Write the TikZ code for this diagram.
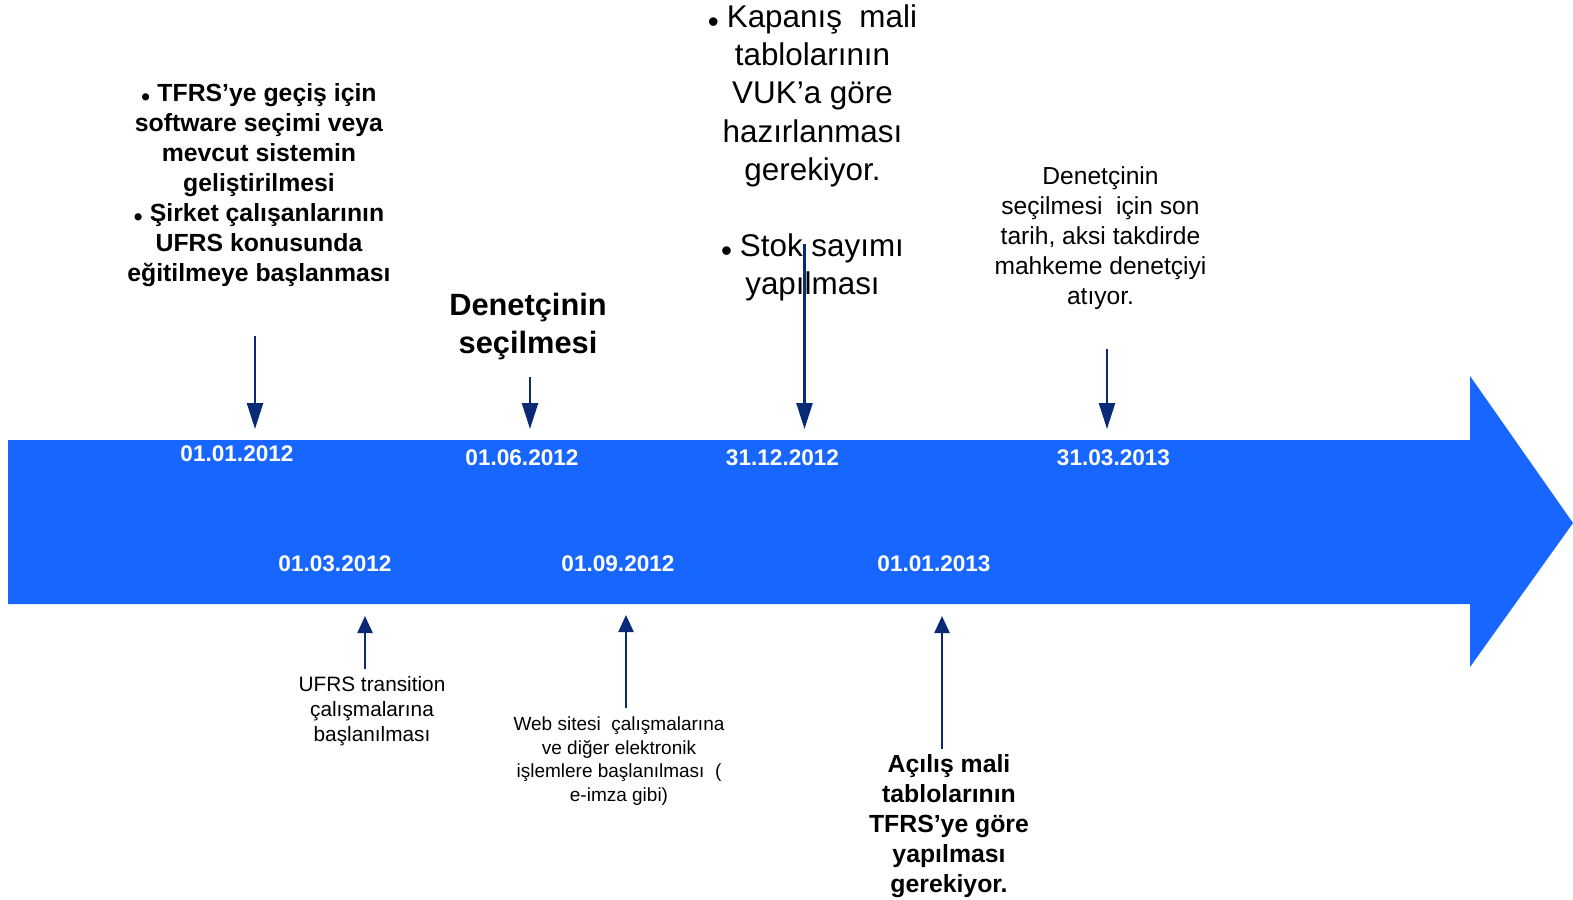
\documentclass[tikz,border=0pt]{standalone}
\usepackage{fontspec}
\setmainfont{Liberation Sans}
\usetikzlibrary{arrows.meta}
\definecolor{tlblue}{RGB}{23,102,255}
\definecolor{navyline}{RGB}{10,42,120}
\newcommand{\smbul}{\raisebox{-0.35ex}{•}\hspace{0.3em}}
\newcommand{\bgbul}{\raisebox{-0.3ex}{•}\hspace{0.25em}}
\begin{document}
\begin{tikzpicture}[x=0.5pt,y=-0.5pt,
  datelbl/.style={text=white,font=\bfseries\fontsize{11.3}{13}\selectfont,inner sep=0pt},
  boldtxt/.style={align=center,inner sep=0pt,font=\bfseries\fontsize{12.4}{15}\selectfont},
  bigbold/.style={align=center,inner sep=0pt,font=\bfseries\fontsize{15.4}{19}\selectfont},
  bigreg/.style={align=center,inner sep=0pt,font=\fontsize{15.7}{19.1}\selectfont},
  midreg/.style={align=center,inner sep=0pt,font=\fontsize{12.3}{15}\selectfont},
  smreg/.style={align=center,inner sep=0pt,font=\fontsize{10.4}{12.5}\selectfont},
  tinyreg/.style={align=center,inner sep=0pt,font=\fontsize{9.5}{11.8}\selectfont},
  downarr/.style={draw=navyline,line width=1.2pt,-{Triangle[width=8pt,length=13pt]}},
  uparr/.style={draw=navyline,line width=1.2pt,-{Triangle[width=7.5pt,length=8.5pt]}}]
\useasboundingbox (0,0) rectangle (1573,899);

% big timeline arrow
\fill[tlblue] (8,440) -- (1470,440) -- (1470,376) -- (1573,523) -- (1470,667) -- (1470,604) -- (8,604) -- cycle;

% dates
\node[datelbl] (t1) at (237,453.5) {01.01.2012};
\node[datelbl] (t2) at (522,457.5) {01.06.2012};
\node[datelbl] (t3) at (782.5,457.5) {31.12.2012};
\node[datelbl] (t4) at (1113.5,457.5) {31.03.2013};
\node[datelbl] (b1) at (335,564) {01.03.2012};
\node[datelbl] (b2) at (618,564) {01.09.2012};
\node[datelbl] (b3) at (934,564) {01.01.2013};

% texts above
\node[boldtxt] (txa) at (259,185) {\smbul TFRS’ye geçiş için\\ software seçimi veya\\ mevcut sistemin\\ geliştirilmesi\\ \smbul Şirket çalışanlarının\\ UFRS konusunda\\ eğitilmeye başlanması};
\node[bigbold] (txb) at (528,327) {Denetçinin\\ seçilmesi};
\node[bigreg] (txc) at (812.5,153) {\bgbul Kapanış\ \ mali\\ tablolarının\\ VUK’a göre\\ hazırlanması\\ gerekiyor.\\[19.1pt] \bgbul Stok sayımı\\ yapılması};
\node[midreg] (txd) at (1100.5,238) {Denetçinin\\ seçilmesi\ \ için son\\ tarih, aksi takdirde\\ mahkeme denetçiyi\\ atıyor.};

% texts below
\node[smreg] (txe) at (372,711) {UFRS transition\\ çalışmalarına\\ başlanılması};
\node[tinyreg] (txf) at (619,761) {Web sitesi\ \ çalışmalarına\\ ve diğer elektronik\\ işlemlere\ başlanılması\ \ (\\ e-imza\ gibi)};
\node[boldtxt] (txg) at (949,826) {Açılış mali\\ tablolarının\\ TFRS’ye göre\\ yapılması\\ gerekiyor.};

% arrow end points
\coordinate (d1s) at (255,336); \coordinate (d1e) at (255,429);
\coordinate (d2s) at (530,377); \coordinate (d2e) at (530,429);
\coordinate (d3s) at (804.5,244); \coordinate (d3e) at (804.5,429);
\coordinate (d4s) at (1107,349); \coordinate (d4e) at (1107,429);
\coordinate (u1s) at (365,669); \coordinate (u1e) at (365,616);
\coordinate (u2s) at (626,708); \coordinate (u2e) at (626,615);
\coordinate (u3s) at (942,749); \coordinate (u3e) at (942,616);

\draw[downarr] (d1s) -- (d1e);
\draw[downarr] (d2s) -- (d2e);
\draw[downarr] (d3s) -- (d3e);
\draw[downarr] (d4s) -- (d4e);
\draw[uparr] (u1s) -- (u1e);
\draw[uparr] (u2s) -- (u2e);
\draw[uparr] (u3s) -- (u3e);
\end{tikzpicture}
\end{document}
